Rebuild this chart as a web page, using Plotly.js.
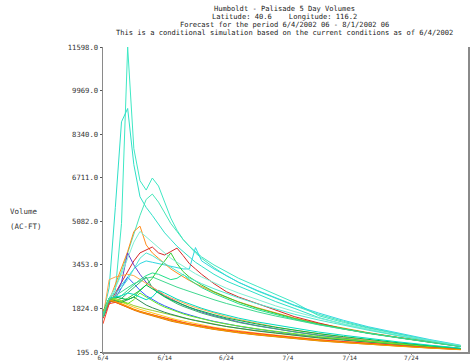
<!DOCTYPE html>
<html>
<head>
<meta charset="utf-8">
<script src="https://cdn.plot.ly/plotly-3.0.1.min.js"></script>
<style>html,body{margin:0;padding:0;background:#fff;}#chart{width:476px;height:362px;}</style>
</head>
<body>
<div id="chart"></div>
<script>
// Days after 6/4/2002
var days = [0,1,2,3,4,5,6,7,8,9,10,11,12,13,14,15,16,18,20,22,25,28,31,35,39,43,48,53,58];
var tickDays = [0,10,20,30,40,50];
var tickLabels = ['6/4','6/14','6/24','7/4','7/14','7/24'];
var yTicks = [195,1824,3453,5082,6711,8340,9969,11598];
var yTickLabels = ['195.0','1824.0','3453.0','5082.0','6711.0','8340.0','9969.0','11598.0'];

var titleLines = [
  'Humboldt - Palisade 5 Day Volumes',
  'Latitude: 40.6\u00a0\u00a0\u00a0\u00a0Longitude: 116.2',
  'Forecast for the period 6/4/2002 06 - 8/1/2002 06',
  'This is a conditional simulation based on the current conditions as of 6/4/2002'
];
var yLabelLines = ['Volume','(AC-FT)'];

// ensemble members (5-day volumes, AC-FT)
var m1  = [1600,2100,2500,5000,11598,7800,6600,6250,6700,6400,5800,5200,4750,4400,4150,3950,3750,3450,3200,2950,2650,2350,2050,1550,1300,1090,850,620,420];
var m2  = [1600,2600,5600,8800,9300,7200,6000,5600,5300,4950,4650,4400,4150,3950,3750,3550,3400,3100,2850,2650,2350,2080,1830,1480,1240,1040,800,590,400];
var m3  = [1600,2200,2600,3200,3900,4600,5300,5900,6100,5800,5400,5000,4700,4400,4150,3900,3700,3350,3050,2800,2480,2200,1930,1600,1340,1110,860,630,430];
var m4  = [1600,2200,2400,2700,3000,3300,3500,3600,3550,3500,3450,3400,3350,3300,3300,4100,3600,3300,3050,2800,2500,2220,1950,1650,1380,1140,890,660,450];
var m5  = [1500,2100,2700,3300,3950,4700,4900,4200,3900,3700,3500,3300,3150,3000,2870,2750,2640,2430,2240,2070,1850,1650,1470,1260,1080,920,740,580,420];
var m6  = [1450,2000,2400,2800,3200,3600,3900,4000,4120,3900,3820,3950,4080,3800,3500,3300,3100,2750,2450,2250,2000,1750,1520,1280,1060,900,720,560,400];
var m7  = [1500,2000,2300,2800,3900,3450,3100,2800,2620,2450,2300,2180,2060,1950,1860,1770,1690,1550,1430,1320,1180,1060,950,820,710,610,500,400,320];
var m8  = [1500,2050,2200,2600,2990,2750,2500,2300,2150,2030,1920,1820,1730,1650,1580,1510,1450,1340,1240,1160,1050,950,860,750,660,570,470,380,300];
var m9  = [1500,2100,2050,2100,2200,2350,2500,2700,2950,3300,3600,3900,3500,3200,3000,2850,2700,2450,2250,2060,1830,1630,1450,1240,1060,900,730,570,410];
var m10 = [1500,2100,2100,2200,2400,2600,2800,3000,2600,2400,2250,2120,2000,1900,1810,1730,1650,1520,1400,1300,1170,1050,950,820,710,610,500,400,320];
var m11 = [1500,2900,3000,3050,3100,3050,2900,2750,2600,2450,2330,2220,2120,2030,1940,1860,1790,1650,1520,1410,1260,1130,1010,870,750,640,520,410,320];
var m12 = [1500,2150,2200,2300,2500,2700,2900,3050,3150,3100,3000,2900,2950,3100,2900,2750,2600,2380,2180,2000,1780,1590,1420,1220,1050,890,720,560,400];
var m13 = [1600,2200,2600,3100,3700,4300,4700,4500,4300,4100,3900,3700,3550,3400,3250,3120,3000,2780,2580,2400,2150,1920,1710,1460,1240,1040,820,620,430];
var m14 = [1650,2150,2100,1990,1890,1800,1720,1650,1580,1510,1450,1390,1340,1290,1240,1190,1150,1070,1000,935,855,785,715,635,565,495,425,355,295];
var m15 = [1600,2100,2060,1950,1850,1760,1680,1610,1540,1470,1410,1350,1300,1250,1200,1160,1120,1040,970,910,830,760,690,610,545,480,410,345,285];
var m16 = [1700,2200,2150,2050,1960,1870,1790,1720,1650,1580,1520,1460,1400,1350,1300,1250,1210,1120,1050,985,900,830,750,665,590,520,445,370,300];
var m17 = [1700,2200,2200,2120,2020,1930,1860,1800,1750,1700,1650,1590,1530,1470,1420,1370,1320,1230,1150,1080,990,910,830,730,650,570,480,390,310];
var m18 = [1650,2150,2120,2050,2150,2250,2100,1950,1850,1760,1680,1610,1540,1480,1420,1370,1320,1230,1150,1080,980,900,820,720,640,560,470,385,310];
var m19 = [1700,2200,2150,2080,2000,2150,2400,2250,2100,1980,1870,1780,1700,1620,1550,1490,1430,1330,1240,1160,1060,970,880,770,680,590,490,400,320];
var m20 = [1250,2000,2050,1950,1860,1780,1700,1640,1580,1520,1460,1400,1350,1300,1250,1210,1170,1090,1020,960,880,810,740,650,580,510,430,360,295];
var m21 = [1700,2200,2250,2200,2150,2250,2500,2700,2550,2400,2270,2150,2050,1960,1870,1790,1720,1590,1470,1370,1240,1120,1010,880,770,660,540,430,330];
var m22 = [1650,2200,2250,2300,2400,2350,2250,2150,2250,2500,2400,2280,2170,2080,1990,1900,1830,1690,1570,1460,1320,1200,1080,940,820,700,570,450,340];
var m23 = [1700,2150,2080,1970,1870,1780,1700,1630,1560,1490,1430,1375,1320,1270,1220,1175,1130,1050,980,920,840,770,700,620,550,480,410,340,280];
var m24 = [1600,2200,2400,2600,2900,3300,3700,3900,3800,3650,3500,3350,3200,3080,2960,2850,2750,2560,2380,2220,2000,1800,1610,1390,1190,1010,800,610,420];
var m25 = [1600,2150,2300,2450,2600,2750,2850,2950,3000,2900,2800,2700,2620,2540,2460,2380,2300,2150,2010,1880,1700,1540,1390,1210,1050,900,730,570,400];

var members = [m1,m2,m3,m4,m5,m6,m7,m8,m9,m10,m11,m12,m13,m14,m15,m16,m17,m18,m19,m20,m21,m22,m23,m24,m25];
var colors = ['#3fe8c4','#2fe0c8','#48e6b8','#30d8e0','#ff8c1a','#d62828','#6a3fd0','#2f5cff',
              '#33cc33','#3cb371','#ffa64d','#22e08a','#7ff0d4','#ff8000','#e06a00','#ffc61a',
              '#9acd32','#2e8b57','#66ee22','#ff4020','#00bb44','#00dcc0','#f0a000','#50e8d0','#40d890'];

var traces = members.map(function (vals, i) {
  return {x: days, y: vals, type: 'scatter', mode: 'lines',
          line: {color: colors[i], width: 1}, hoverinfo: 'skip', showlegend: false};
});

var mono = 'DejaVu Sans Mono, monospace';
var annotations = [];
var titleY = [8.5, 16.5, 24.5, 32.5];
titleLines.forEach(function (t, i) {
  annotations.push({text: t, xref: 'paper', yref: 'paper', x: 0.497, y: (352 - titleY[i]) / 305,
    xanchor: 'center', yanchor: 'middle', showarrow: false, font: {family: mono, size: 7.1, color: '#222'}});
});
var labY = [212, 226];
yLabelLines.forEach(function (t, i) {
  annotations.push({text: t, xref: 'paper', yref: 'paper', x: (8 - 103) / 365, y: (352 - labY[i]) / 305,
    xanchor: 'left', yanchor: 'middle', showarrow: false, font: {family: mono, size: 7.5, color: '#333'}});
});

var layout = {
  width: 476, height: 362,
  margin: {l: 103, r: 8, t: 47, b: 10, pad: 0},
  paper_bgcolor: '#fff', plot_bgcolor: '#fff',
  showlegend: false,
  xaxis: {range: [0, 59.2], tickmode: 'array', tickvals: tickDays, ticktext: tickLabels,
    showgrid: false, zeroline: false, showline: true, linecolor: '#8a8a8a', linewidth: 1.5,
    ticks: 'outside', ticklen: 1, tickcolor: '#8a8a8a', automargin: false, ticklabelstandoff: -2,
    tickfont: {family: mono, size: 6, color: '#333'}},
  yaxis: {range: [195, 11598], tickmode: 'array', tickvals: yTicks, ticktext: yTickLabels,
    showgrid: false, zeroline: false, showline: true, mirror: true, linecolor: '#8a8a8a', linewidth: 1.5,
    ticks: 'outside', ticklen: 2, tickcolor: '#555', automargin: false,
    tickfont: {family: mono, size: 7.2, color: '#333'}},
  annotations: annotations
};

Plotly.newPlot('chart', traces, layout, {staticPlot: true, displayModeBar: false});
</script>
</body>
</html>
